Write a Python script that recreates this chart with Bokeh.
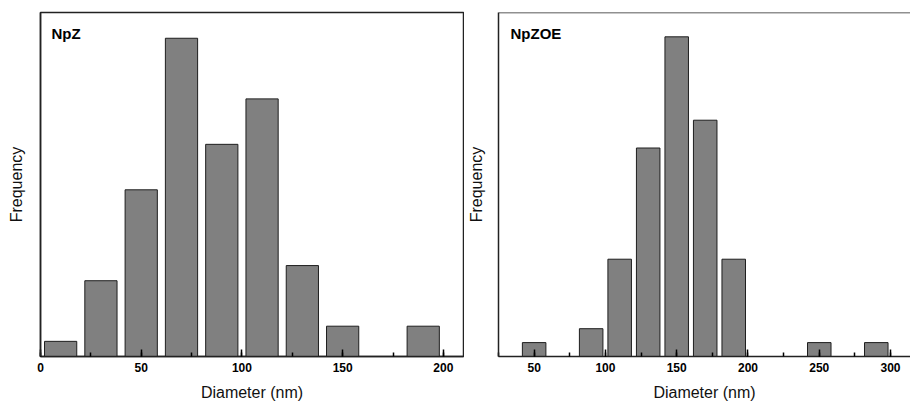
from bokeh.plotting import figure
from bokeh.layouts import row
from bokeh.models import (SingleIntervalTicker, FixedTicker, Label, Span,
                          Range1d, ColumnDataSource)
from bokeh.embed import file_html
from bokeh.resources import INLINE

# ---- data ----
npz_diameter = [10, 30, 50, 70, 90, 110, 130, 150, 170, 190]
npz_frequency = [1, 5, 11, 21, 14, 17, 6, 2, 0, 2]

npzoe_diameter = [50, 70, 90, 110, 130, 150, 170, 190, 210, 230, 250, 270, 290]
npzoe_frequency = [1, 0, 2, 7, 15, 23, 17, 7, 0, 0, 1, 0, 1]

npz_title = "NpZ"
npzoe_title = "NpZOE"
x_label = "Diameter (nm)"
y_label = "Frequency"

FONT = "Liberation Sans"
FRAME = "#222222"


def make_panel(centers, counts, title, xr, yr, width, bl, br, label_dx, bar_w,
               ylab_standoff, box_right=True):
    keep = [(c, v) for c, v in zip(centers, counts) if v > 0]
    src = ColumnDataSource(dict(x=[k[0] for k in keep], top=[k[1] for k in keep]))
    p = figure(width=width, height=403, x_range=Range1d(*xr), y_range=Range1d(*yr),
               output_backend="svg", toolbar_location=None,
               min_border_left=bl, min_border_right=br, min_border_top=12,
               min_border_bottom=46)
    p.grid.visible = False
    p.background_fill_color = "white"
    p.border_fill_color = "white"
    if box_right:
        p.outline_line_color = FRAME
        p.outline_line_width = 1.5
    else:
        p.outline_line_color = None
        p.add_layout(Span(location=yr[1], dimension="width", line_color=FRAME,
                          line_width=1.5))

    p.vbar(x="x", top="top", width=bar_w, bottom=0, source=src,
           fill_color="#808080", line_color="#1e1e1e", line_width=1)

    xa = p.below[0]
    xa.ticker = SingleIntervalTicker(interval=50, num_minor_ticks=2)
    xa.major_tick_in = 7
    xa.major_tick_out = 0
    xa.minor_tick_in = 4
    xa.minor_tick_out = 0
    xa.major_tick_line_color = "black"
    xa.minor_tick_line_color = "black"
    xa.major_tick_line_width = 1.5
    xa.minor_tick_line_width = 1.5
    xa.axis_line_color = FRAME
    xa.axis_line_width = 1.5
    xa.major_label_text_font = FONT
    xa.major_label_text_font_style = "bold"
    xa.major_label_text_font_size = "12px"
    xa.major_label_text_color = "black"
    xa.major_label_standoff = 6
    xa.axis_label = x_label
    xa.axis_label_text_font = FONT
    xa.axis_label_text_font_style = "normal"
    xa.axis_label_text_font_size = "16px"
    xa.axis_label_text_color = "#111111"
    xa.axis_label_standoff = 9

    ya = p.left[0]
    ya.ticker = FixedTicker(ticks=[])
    ya.major_tick_in = 0
    ya.major_tick_out = 0
    ya.minor_tick_in = 0
    ya.minor_tick_out = 0
    ya.major_label_text_font_size = "0px"
    ya.major_label_standoff = 0
    ya.axis_line_color = FRAME
    ya.axis_line_width = 1.5
    ya.axis_label = y_label
    ya.axis_label_text_font = FONT
    ya.axis_label_text_font_style = "normal"
    ya.axis_label_text_font_size = "16px"
    ya.axis_label_text_color = "#111111"
    ya.axis_label_standoff = ylab_standoff

    # panel tag in the upper-left corner
    x_px = (width - bl - br) / (xr[1] - xr[0])
    y_px = (403 - 12 - 46) / (yr[1] - yr[0])
    p.add_layout(Label(x=xr[0] + label_dx / x_px, y=yr[1] - 21.5 / y_px, text=title,
                       text_font=FONT, text_font_style="bold", text_font_size="15px",
                       text_baseline="middle", text_align="left", text_color="black"))
    return p


left = make_panel(npz_diameter, npz_frequency, npz_title, (0, 210), (0, 22.7),
                  464, 40, 1, 11, 16, 16, box_right=True)
right = make_panel(npzoe_diameter, npzoe_frequency, npzoe_title, (25, 314), (0, 24.75),
                   446, 33, 0, 12, 16.5, 14, box_right=False)

layout = row(left, right, spacing=0)
open("out.html", "w").write(file_html(layout, INLINE))
